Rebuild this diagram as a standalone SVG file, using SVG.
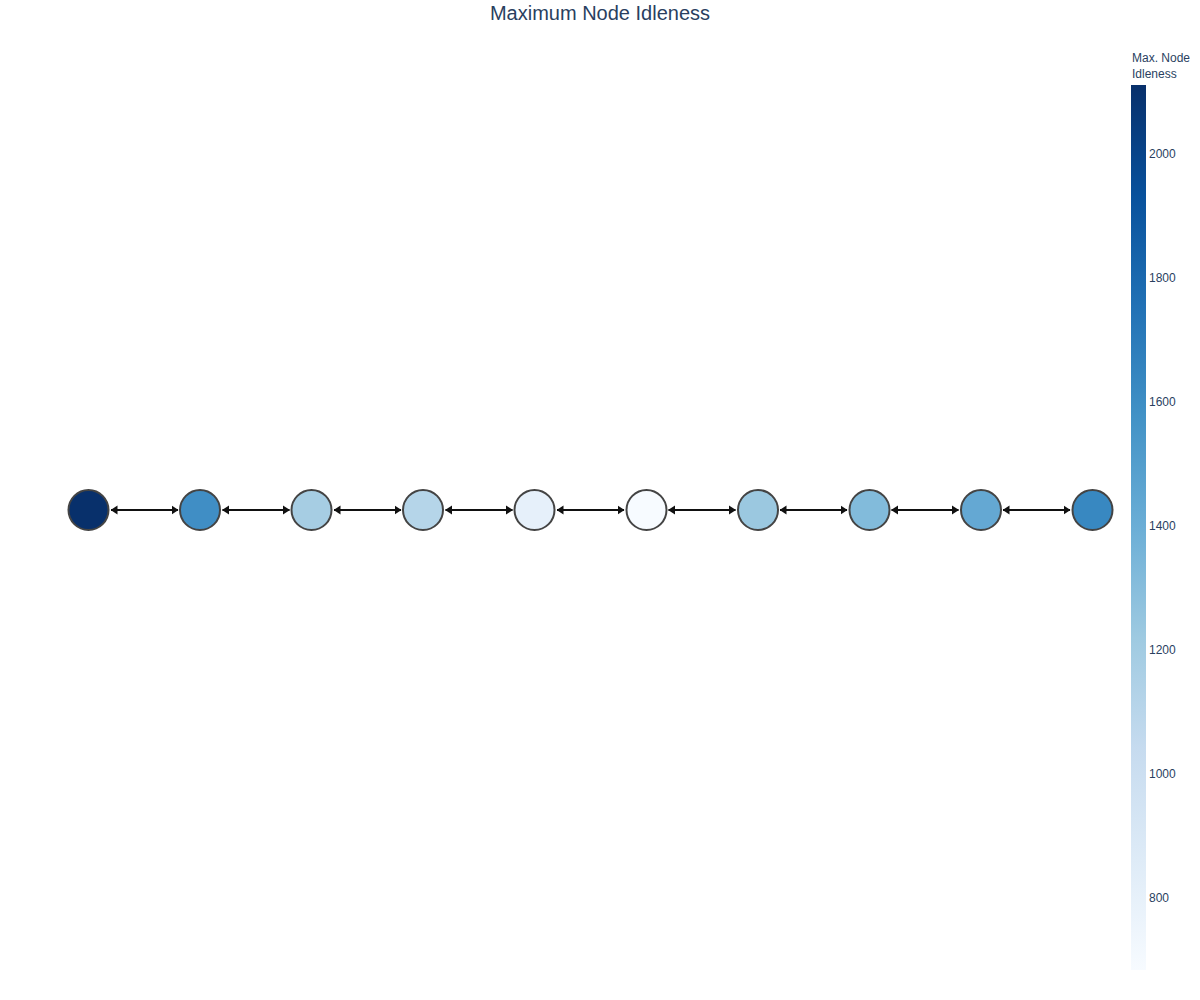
<svg xmlns="http://www.w3.org/2000/svg" width="1200" height="1000" viewBox="0 0 1200 1000">
<style>
.t{font-family:"Liberation Sans",Arial,sans-serif;fill:#2a3f5f}
.n{stroke:#444;stroke-width:2}
.e{stroke:#111;stroke-width:2;fill:none;marker-start:url(#a);marker-end:url(#a)}
</style>
<defs>
<marker id="a" viewBox="0 0 7 10" refX="6.5" refY="5" markerWidth="7" markerHeight="10" markerUnits="userSpaceOnUse" orient="auto-start-reverse">
<path d="M0,0.5 L7,5 L0,9.5 Z" fill="#111"/>
</marker>
<linearGradient id="cb" x1="0" y1="1" x2="0" y2="0">
<stop offset="0" stop-color="rgb(247,251,255)"/>
<stop offset="0.125" stop-color="rgb(222,235,247)"/>
<stop offset="0.25" stop-color="rgb(198,219,239)"/>
<stop offset="0.375" stop-color="rgb(158,202,225)"/>
<stop offset="0.5" stop-color="rgb(107,174,214)"/>
<stop offset="0.625" stop-color="rgb(66,146,198)"/>
<stop offset="0.75" stop-color="rgb(33,113,181)"/>
<stop offset="0.875" stop-color="rgb(8,81,156)"/>
<stop offset="1" stop-color="rgb(8,48,107)"/>
</linearGradient>
</defs>
<rect width="1200" height="1000" fill="#fff"/>
<text class="t" x="600" y="20" font-size="20" text-anchor="middle">Maximum Node Idleness</text>
<g id="connectors">
<line class="e" x1="111" y1="510" x2="178" y2="510"/>
<line class="e" x1="222.5" y1="510" x2="289.5" y2="510"/>
<line class="e" x1="334" y1="510" x2="401" y2="510"/>
<line class="e" x1="445.5" y1="510" x2="512.5" y2="510"/>
<line class="e" x1="557" y1="510" x2="624" y2="510"/>
<line class="e" x1="668.5" y1="510" x2="735.5" y2="510"/>
<line class="e" x1="780" y1="510" x2="847" y2="510"/>
<line class="e" x1="891.5" y1="510" x2="958.5" y2="510"/>
<line class="e" x1="1003" y1="510" x2="1070" y2="510"/>
</g>
<g id="node1"><circle class="n" cx="88.5" cy="510" r="20" fill="rgb(8,48,107)"/></g>
<g id="node2"><circle class="n" cx="200" cy="510" r="20" fill="rgb(64,142,197)"/></g>
<g id="node3"><circle class="n" cx="311.5" cy="510" r="20" fill="rgb(166,205,227)"/></g>
<g id="node4"><circle class="n" cx="423" cy="510" r="20" fill="rgb(181,213,233)"/></g>
<g id="node5"><circle class="n" cx="534.5" cy="510" r="20" fill="rgb(230,240,250)"/></g>
<g id="node6"><circle class="n" cx="646.5" cy="510" r="20" fill="rgb(247,251,255)"/></g>
<g id="node7"><circle class="n" cx="758" cy="510" r="20" fill="rgb(155,200,224)"/></g>
<g id="node8"><circle class="n" cx="869.5" cy="510" r="20" fill="rgb(130,187,219)"/></g>
<g id="node9"><circle class="n" cx="981" cy="510" r="20" fill="rgb(100,168,211)"/></g>
<g id="node10"><circle class="n" cx="1092.5" cy="510" r="20" fill="rgb(56,136,193)"/></g>
<g id="colorbar">
<rect x="1131" y="85" width="15" height="885" fill="url(#cb)"/>
<text class="t" x="1132" y="62" font-size="12">Max. Node</text>
<text class="t" x="1132" y="78" font-size="12">Idleness</text>
<g class="t" font-size="12">
<text x="1149" y="158">2000</text>
<text x="1149" y="282">1800</text>
<text x="1149" y="406">1600</text>
<text x="1149" y="530">1400</text>
<text x="1149" y="654">1200</text>
<text x="1149" y="778">1000</text>
<text x="1149" y="902">800</text>
</g>
</g>
</svg>
